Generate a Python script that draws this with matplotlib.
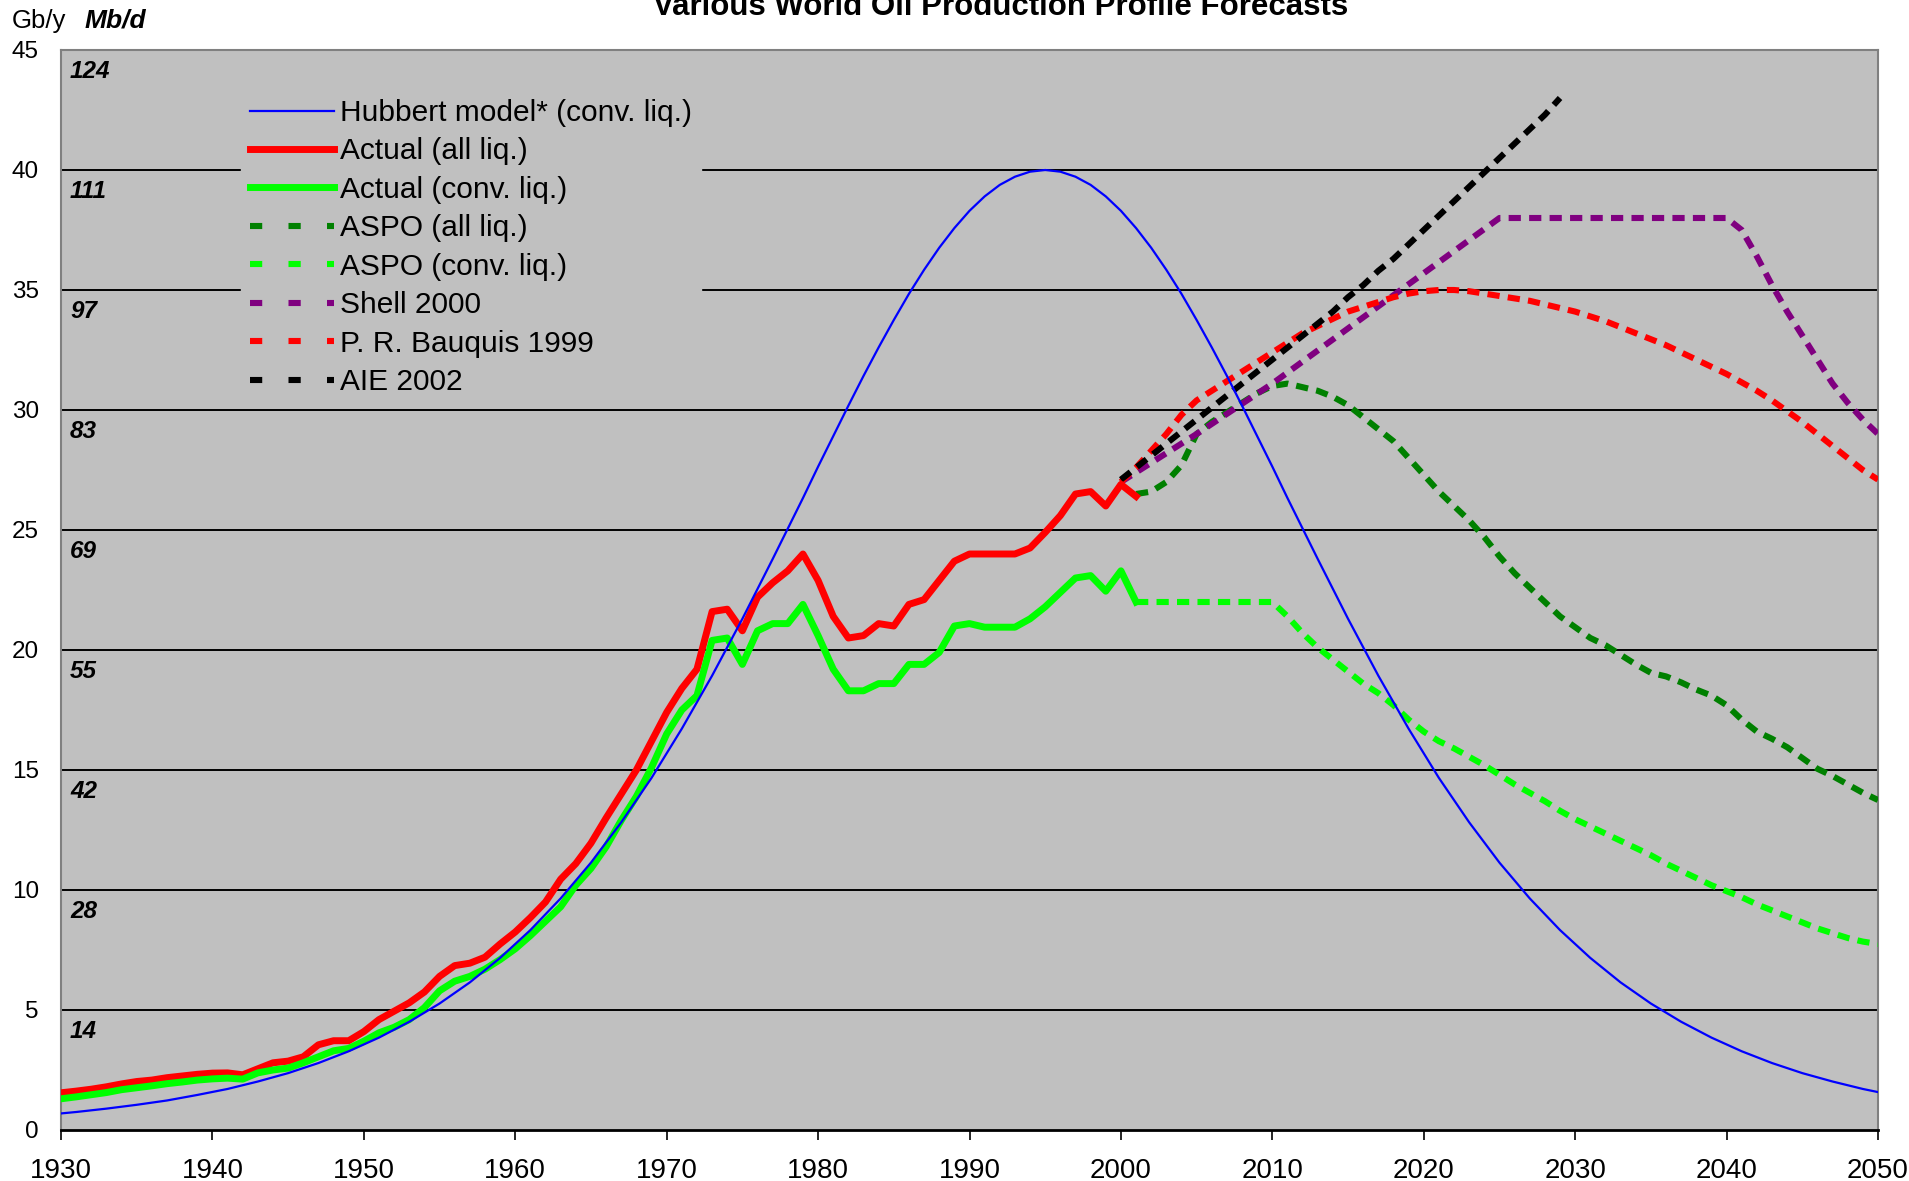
import matplotlib
matplotlib.use("Agg")
import matplotlib.pyplot as plt
from matplotlib.lines import Line2D

plt.rcParams['font.family'] = ['Liberation Sans', 'DejaVu Sans']

BG = "#C0C0C0"
NARROW = ['Liberation Sans Narrow', 'Liberation Sans', 'DejaVu Sans']

# Hubbert model (conventional liquids), Gb/y -- yearly around the peak, every other year on the tails
hubbert_years = ([1930] + list(range(1931, 1980, 2)) + list(range(1980, 2011))
                 + list(range(2011, 2050, 2)) + [2050])
hubbert = [0.69,
           0.75, 0.89, 1.05, 1.23, 1.46, 1.71, 2.02, 2.37, 2.79, 3.28,
           3.85, 4.51, 5.27, 6.15, 7.17, 8.33, 9.65, 11.14, 12.82, 14.67,
           16.72, 18.93, 21.30, 23.79, 26.33,
           27.64, 28.91, 30.18, 31.42, 32.61, 33.75, 34.84, 35.84, 36.76, 37.58,
           38.30, 38.90, 39.38, 39.72, 39.93, 40.00, 39.93, 39.72, 39.38, 38.90,
           38.30, 37.58, 36.76, 35.84, 34.84, 33.75, 32.61, 31.42, 30.18, 28.91,
           27.64,
           26.33, 23.79, 21.30, 18.93, 16.72, 14.67, 12.82, 11.14, 9.65, 8.33,
           7.17, 6.15, 5.27, 4.51, 3.85, 3.28, 2.79, 2.37, 2.02, 1.71,
           1.58]

# historical production 1930-2001
actual_years = list(range(1930, 2002))
actual_all = [1.55, 1.62, 1.70, 1.80, 1.92, 2.02, 2.08, 2.18, 2.25, 2.32,
              2.37, 2.38, 2.30, 2.55, 2.80, 2.87, 3.05, 3.55, 3.72, 3.72,
              4.10, 4.60, 4.95, 5.30, 5.75, 6.40, 6.85, 6.95, 7.20, 7.75,
              8.25, 8.85, 9.50, 10.45, 11.10, 11.95, 13.00, 14.00, 15.00, 16.20,
              17.40, 18.40, 19.20, 21.60, 21.70, 20.80, 22.20, 22.80, 23.30, 24.00,
              22.90, 21.40, 20.50, 20.60, 21.10, 21.00, 21.90, 22.10, 22.90, 23.70,
              24.00, 24.00, 24.00, 24.00, 24.25, 24.90, 25.60, 26.50, 26.60, 26.00,
              26.90, 26.40]
actual_conv = [1.30, 1.38, 1.47, 1.56, 1.68, 1.76, 1.84, 1.93, 2.00, 2.08,
               2.13, 2.16, 2.12, 2.38, 2.50, 2.58, 2.80, 3.05, 3.30, 3.40,
               3.70, 4.05, 4.28, 4.60, 5.10, 5.80, 6.20, 6.40, 6.70, 7.10,
               7.55, 8.10, 8.70, 9.30, 10.20, 10.90, 11.80, 12.90, 13.90, 15.10,
               16.50, 17.50, 18.10, 20.40, 20.50, 19.40, 20.80, 21.10, 21.10, 21.90,
               20.60, 19.20, 18.30, 18.30, 18.60, 18.60, 19.40, 19.40, 19.90, 21.00,
               21.10, 20.95, 20.95, 20.95, 21.30, 21.80, 22.40, 23.00, 23.10, 22.45,
               23.30, 22.00]

# forecasts
aspo_years = list(range(2001, 2051))
aspo_all = [26.5, 26.6, 27.0, 27.7, 29.0, 29.5, 29.9, 30.3, 30.7, 31.0,
            31.1, 30.95, 30.8, 30.55, 30.2, 29.7, 29.2, 28.7, 28.0, 27.3,
            26.6, 26.0, 25.4, 24.7, 23.9, 23.2, 22.6, 22.0, 21.4, 20.95,
            20.5, 20.2, 19.8, 19.4, 19.05, 18.9, 18.65, 18.35, 18.1, 17.7,
            17.1, 16.6, 16.3, 15.95, 15.5, 15.05, 14.75, 14.4, 14.05, 13.75]
aspo_conv = [22.0, 22.0, 22.0, 22.0, 22.0, 22.0, 22.0, 22.0, 22.0, 22.0,
             21.4, 20.7, 20.1, 19.6, 19.1, 18.6, 18.2, 17.7, 17.1, 16.6,
             16.2, 15.9, 15.55, 15.2, 14.8, 14.4, 14.05, 13.7, 13.3, 12.95,
             12.65, 12.35, 12.05, 11.75, 11.45, 11.1, 10.8, 10.5, 10.2, 9.95,
             9.7, 9.4, 9.15, 8.9, 8.65, 8.4, 8.2, 8.0, 7.85, 7.75]

shell_years = [2000, 2005, 2010, 2015, 2020, 2025, 2030, 2035, 2040,
               2041, 2042, 2043, 2044, 2045, 2046, 2047, 2048, 2049, 2050]
shell = [27.0, 29.0, 31.1, 33.4, 35.7, 38.0, 38.0, 38.0, 38.0,
         37.5, 36.4, 35.2, 34.1, 33.1, 32.1, 31.1, 30.3, 29.6, 29.0]

bauquis_years = list(range(2000, 2051))
bauquis = [27.0, 27.6, 28.3, 29.0, 29.8, 30.4, 30.8, 31.2, 31.6, 32.0,
           32.4, 32.8, 33.2, 33.5, 33.8, 34.1, 34.3, 34.5, 34.7, 34.85,
           34.95, 35.0, 35.0, 34.95, 34.85, 34.75, 34.65, 34.55, 34.4, 34.25,
           34.1, 33.9, 33.7, 33.45, 33.2, 32.95, 32.7, 32.4, 32.1, 31.8,
           31.5, 31.15, 30.8, 30.4, 29.95, 29.5, 29.0, 28.5, 28.0, 27.5, 27.1]

aie_years = list(range(2000, 2030))
aie = [27.1, 27.6, 28.1, 28.6, 29.1, 29.6, 30.1, 30.6, 31.1, 31.6,
       32.1, 32.6, 33.1, 33.6, 34.1, 34.7, 35.2, 35.8, 36.3, 36.9,
       37.5, 38.1, 38.7, 39.3, 39.9, 40.5, 41.1, 41.7, 42.3, 43.0]

gby_ticks = [0, 5, 10, 15, 20, 25, 30, 35, 40, 45]
mbd_labels = ["14", "28", "42", "55", "69", "83", "97", "111", "124"]
decades = list(range(1930, 2051, 10))

fig = plt.figure(figsize=(19.09, 11.81), dpi=100)
ax = fig.add_axes([61 / 1909, 1 - 1130 / 1181, 1817 / 1909, 1080 / 1181])
ax.set_facecolor(BG)

for g in gby_ticks[1:-1]:
    ax.axhline(g, color="black", lw=1.4, zorder=1)

DASH = (0, (2.0, 1.35))
dashed = dict(lw=4.4, linestyle=DASH, dash_capstyle="butt", zorder=3)

ax.plot(aspo_years, aspo_all, color="#008000", **dashed)
ax.plot(aspo_years, aspo_conv, color="#00FF00", **dashed)
ax.plot(shell_years, shell, color="#800080", **dashed)
ax.plot(bauquis_years, bauquis, color="#FF0000", **dashed)
ax.plot(aie_years, aie, color="black", **dashed)
ax.plot(actual_years, actual_all, color="#FF0000", lw=5.0, zorder=4,
        solid_joinstyle="round")
ax.plot(actual_years, actual_conv, color="#00FF00", lw=5.0, zorder=4,
        solid_joinstyle="round")
ax.plot(hubbert_years, hubbert, color="#0000FF", lw=1.6, zorder=5)

ax.set_xlim(1930, 2050)
ax.set_ylim(0, 45)
ax.set_xticks(decades)
ax.set_xticklabels([str(d) for d in decades], family=NARROW, fontsize=20)
ax.set_yticks(gby_ticks)
ax.set_yticklabels([str(g) for g in gby_ticks], fontsize=17.5)
ax.tick_params(axis="x", length=7, width=1.2, color="black", pad=13)
ax.tick_params(axis="y", length=0, pad=16)

for side in ("left", "top", "right"):
    ax.spines[side].set_color("#808080")
    ax.spines[side].set_linewidth(1.5)
ax.spines["bottom"].set_color("black")
ax.spines["bottom"].set_linewidth(2.0)

# secondary scale in Mb/d, written just under each grid line
for g, lab in zip(gby_ticks[1:], mbd_labels):
    ax.text(1930.6, g - 0.4, lab, fontsize=17.5, fontweight="bold",
            fontstyle="italic", ha="left", va="top", zorder=6)

fig.text(12 / 1909, 1 - 21 / 1181, "Gb/y", fontsize=18.5, ha="left", va="center")
fig.text(85 / 1909, 1 - 21 / 1181, "Mb/d", fontsize=19, fontweight="bold",
         fontstyle="italic", ha="left", va="center")
fig.text(1001 / 1909, 1 - 15 / 1181, "Various World Oil Production Profile Forecasts",
         fontsize=22.5, fontweight="bold", ha="center", va="baseline")

legend_dash = (0, (2.0, 4.3))
dash_kw = dict(lw=4.4, linestyle=legend_dash, dash_capstyle="butt")
handles = [
    Line2D([], [], color="#0000FF", lw=1.6),
    Line2D([], [], color="#FF0000", lw=5.0),
    Line2D([], [], color="#00FF00", lw=5.0),
    Line2D([], [], color="#008000", **dash_kw),
    Line2D([], [], color="#00FF00", **dash_kw),
    Line2D([], [], color="#800080", **dash_kw),
    Line2D([], [], color="#FF0000", **dash_kw),
    Line2D([], [], color="black", **dash_kw),
]
labels = ["Hubbert model* (conv. liq.)", "Actual (all liq.)", "Actual (conv. liq.)",
          "ASPO (all liq.)", "ASPO (conv. liq.)", "Shell 2000",
          "P. R. Bauquis 1999", "AIE 2002"]
leg = ax.legend(handles, labels, loc="upper left",
                bbox_to_anchor=(241 / 1909, 1 - 90 / 1181),
                bbox_transform=fig.transFigure, fontsize=21.5,
                frameon=True, fancybox=False, facecolor=BG, edgecolor=BG,
                framealpha=1.0, handlelength=2.8, handletextpad=0.2,
                labelspacing=0.35, borderpad=0.3, borderaxespad=0.0)
leg.set_zorder(2)

fig.savefig("out.png", dpi=100, facecolor="white")
